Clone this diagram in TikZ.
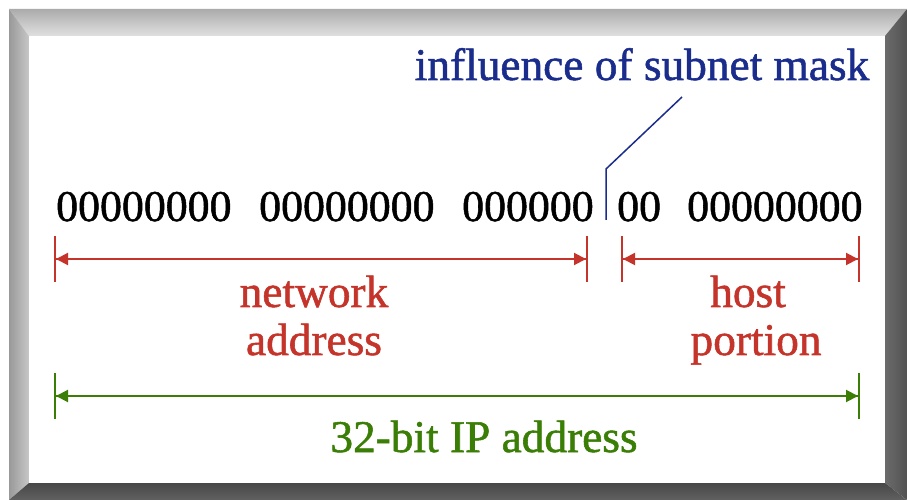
\documentclass[tikz,border=0pt]{standalone}
\usepackage{fontspec}
\setmainfont{Liberation Serif}
\newfontfamily\heavyserif{Liberation Serif}[FakeBold=1.2]
\usetikzlibrary{arrows.meta}
\definecolor{maskblue}{HTML}{1A2C8C}
\definecolor{netred}{HTML}{C4342A}
\definecolor{ipgreen}{HTML}{3A7E06}
\tikzset{
  bits/.style={anchor=base west, inner sep=0pt, font=\heavyserif\fontsize{44}{50}\selectfont},
  lbl/.style={anchor=base, inner sep=0pt, font=\heavyserif\fontsize{45.5}{50}\selectfont},
  span/.style={line width=2bp, {Bar[width=46bp]Triangle[length=12bp,width=12bp]}-{Triangle[length=12bp,width=12bp]Bar[width=46bp]}},
}
\begin{document}
\begin{tikzpicture}[x=1bp,y=-1bp]
\useasboundingbox (0,0) rectangle (907,500);
% bevelled frame
\shade[top color=black!33, bottom color=black!12] (9,9) -- (907,9) -- (885,36) -- (29,36) -- cycle;
\shade[left color=black!40, right color=black!22] (9,9) -- (29,36) -- (29,483) -- (9,500) -- cycle;
\shade[left color=black!58, right color=black!68] (907,9) -- (907,500) -- (885,483) -- (885,36) -- cycle;
\shade[top color=black!72, bottom color=black!62] (9,500) -- (29,483) -- (885,483) -- (907,500) -- cycle;
\fill[white] (29,36) rectangle (885,483);

% address bits
\node[bits] (g1) at (56,221) {00000000};
\node[bits] (g2) at (259,221) {00000000};
\node[bits] (g3) at (462,221) {000000};
\node[bits] (g4) at (617,221) {00};
\node[bits] (g5) at (687,221) {00000000};

% subnet mask boundary
\coordinate (mlow) at (606,220);
\coordinate (mbend) at (606,169);
\node[lbl, text=maskblue] (mask) at (642,80) {influence of subnet mask};
\coordinate (mtip) at (682,97);
\draw[maskblue, line width=1.5bp] (mlow) -- (mbend) -- (mtip);

% spans
\coordinate (nl) at (54,259);
\coordinate (nr) at (588,259);
\coordinate (hl) at (621,259);
\coordinate (hr) at (860,259);
\coordinate (al) at (54,396);
\coordinate (ar) at (860,396);
\draw[span, netred] (nl) -- (nr);
\draw[span, netred] (hl) -- (hr);
\draw[span, ipgreen] (al) -- (ar);

\node[lbl, text=netred] (net1) at (314,307) {network};
\node[lbl, text=netred] (net2) at (314,355) {address};
\node[lbl, text=netred] (host1) at (748,307) {host};
\node[lbl, text=netred] (host2) at (756,355) {portion};
\node[lbl, text=ipgreen] (ip) at (484,452) {32-bit IP address};
\end{tikzpicture}
\end{document}
